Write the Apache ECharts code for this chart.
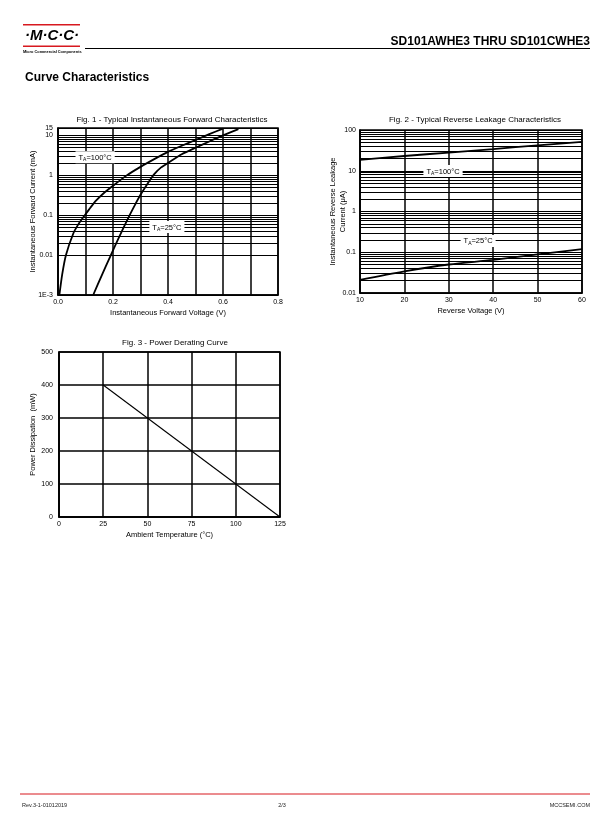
<!DOCTYPE html>
<html>
<head>
<meta charset="utf-8">
<script src="https://cdn.jsdelivr.net/npm/echarts@6/dist/echarts.min.js"></script>
<style>
  html, body { margin: 0; padding: 0; background: #fff; }
  #page { width: 612px; height: 825px; }
</style>
</head>
<body>
<div id="page"></div>
<script>
// Fig. 1 - forward characteristics (V, mA)
const fwdVolt100 = [0.005, 0.015, 0.029, 0.056, 0.075, 0.098, 0.12, 0.14, 0.17, 0.2, 0.25, 0.3, 0.35, 0.4, 0.45, 0.5, 0.55, 0.6];
const fwdCur100 = [0.001, 0.0032, 0.01, 0.035, 0.06, 0.1, 0.16, 0.235, 0.37, 0.54, 0.98, 1.6, 2.5, 3.8, 5.4, 7.5, 10.5, 14.5];
const fwdVolt25 = [0.128, 0.16, 0.189, 0.22, 0.257, 0.28, 0.3, 0.325, 0.35, 0.375, 0.4, 0.45, 0.5, 0.55, 0.6, 0.656];
const fwdCur25 = [0.001, 0.0032, 0.0089, 0.026, 0.089, 0.18, 0.32, 0.6, 1.05, 1.55, 2.0, 3.3, 4.8, 6.9, 9.8, 14.1];

// Fig. 2 - reverse leakage (V, uA)
const revVolt = [10, 20, 30, 40, 50, 60];
const revCur100 = [18.4, 23, 28, 34, 42, 51];
const revCur25 = [0.021, 0.034, 0.05, 0.065, 0.089, 0.119];

// Fig. 3 - power derating (degC, mW)
const derTemp = [25, 125];
const derPower = [400, 0];

// log grid multipliers and decade labels
const logSteps = [2, 3, 4, 5, 6, 7, 8, 9];
const fig1Decades = [0.001, 0.01, 0.1, 1, 10];
const fig2Decades = [0.01, 0.1, 1, 10];
const fig1XLabels = ['0.0', '0.2', '0.4', '0.6', '0.8'];

const FONT = 'Liberation Sans, Arial, sans-serif';
const chart = echarts.init(document.getElementById('page'));

function minorLines(decades, max) {
  const out = [];
  decades.forEach(d => logSteps.forEach(k => {
    const v = +(k * d).toPrecision(3);
    if (v < max) out.push({ yAxis: v });
  }));
  return out;
}
function gridMarks(decades, max) {
  return {
    silent: true,
    symbol: ['none', 'none'],
    animation: false,
    label: { show: false },
    lineStyle: { color: '#000', width: 1, type: 'solid' },
    emphasis: { disabled: true },
    data: minorLines(decades, max)
  };
}
const taRich = {
  t: { fontSize: 7.5, fontFamily: FONT, color: '#000' },
  s: { fontSize: 5, fontFamily: FONT, color: '#000', verticalAlign: 'bottom', padding: [4, 0, 0, 0] }
};
function taLabel(coord, txt) {
  return {
    coord: coord,
    symbol: 'rect',
    symbolSize: 0,
    label: {
      show: true, position: 'inside',
      formatter: '{t|T}{s|A}{t|=' + txt + '}',
      backgroundColor: '#fff', padding: [2, 3, 1, 3],
      rich: taRich
    }
  };
}
const pairs = (xs, ys) => xs.map((x, i) => [x, ys[i]]);

const axisText = { color: '#000', fontSize: 7, fontFamily: FONT };
const nameText = { color: '#000', fontSize: 7.5, fontFamily: FONT };
const blackLine = w => ({ show: true, lineStyle: { color: '#000', width: w } });
const curve = w => ({ color: '#000', width: w });

chart.setOption({
  animation: false,
  textStyle: { fontFamily: FONT },
  title: [
    { text: 'Fig. 1 - Typical Instantaneous Forward Characteristics', left: 167, top: 111, textAlign: 'center',
      textStyle: { fontSize: 8, fontWeight: 'normal', color: '#000', fontFamily: FONT } },
    { text: 'Fig. 2 - Typical Reverse Leakage Characteristics', left: 470, top: 111, textAlign: 'center',
      textStyle: { fontSize: 8, fontWeight: 'normal', color: '#000', fontFamily: FONT } },
    { text: 'Fig. 3 - Power Derating Curve', left: 170, top: 334, textAlign: 'center',
      textStyle: { fontSize: 8, fontWeight: 'normal', color: '#000', fontFamily: FONT } }
  ],
  grid: [
    { left: 58, top: 128, width: 220, height: 167, show: true, borderColor: '#000', borderWidth: 1.5 },
    { left: 360, top: 130, width: 222, height: 163, show: true, borderColor: '#000', borderWidth: 1.5 },
    { left: 59, top: 352, width: 221, height: 165, show: true, borderColor: '#000', borderWidth: 1.5 }
  ],
  xAxis: [
    { gridIndex: 0, type: 'value', min: 0, max: 0.8, interval: 0.1,
      name: 'Instantaneous Forward Voltage (V)', nameLocation: 'middle', nameGap: 14, nameTextStyle: nameText,
      axisLine: blackLine(1.5), axisTick: { show: false }, splitLine: blackLine(1.5),
      axisLabel: Object.assign({ margin: 4, formatter: v => {
        const i = Math.round(v * 10);
        return i % 2 === 0 ? fig1XLabels[i / 2] : '';
      } }, axisText) },
    { gridIndex: 1, type: 'value', min: 10, max: 60, interval: 10,
      name: 'Reverse Voltage (V)', nameLocation: 'middle', nameGap: 14, nameTextStyle: nameText,
      axisLine: blackLine(1.5), axisTick: { show: false }, splitLine: blackLine(1.5),
      axisLabel: Object.assign({ margin: 4 }, axisText) },
    { gridIndex: 2, type: 'value', min: 0, max: 125, interval: 25,
      name: 'Ambient Temperature (\u00b0C)', nameLocation: 'middle', nameGap: 14, nameTextStyle: nameText,
      axisLine: blackLine(1.5), axisTick: { show: false }, splitLine: blackLine(1.5),
      axisLabel: Object.assign({ margin: 4 }, axisText) }
  ],
  yAxis: [
    { gridIndex: 0, type: 'log', logBase: 10, min: 0.001, max: 15,
      name: 'Instantaneous Forward Current (mA)', nameLocation: 'middle', nameGap: 21, nameMoveOverlap: false,
      nameTextStyle: nameText,
      axisLine: blackLine(1.5), axisTick: { show: false }, splitLine: blackLine(1),
      axisLabel: Object.assign({ margin: 5, formatter: v => v < 0.0015 ? '1E-3' : String(+v.toPrecision(3)) }, axisText) },
    { gridIndex: 1, type: 'log', logBase: 10, min: 0.01, max: 100,
      name: 'Instantaneous Reverse Leakage\nCurrent (\u03bcA)', nameLocation: 'middle', nameGap: 12, nameMoveOverlap: false,
      nameTextStyle: Object.assign({ lineHeight: 10 }, nameText),
      axisLine: blackLine(1.5), axisTick: { show: false }, splitLine: blackLine(1),
      axisLabel: Object.assign({ margin: 4, formatter: v => String(+v.toPrecision(3)) }, axisText) },
    { gridIndex: 2, type: 'value', min: 0, max: 500, interval: 100,
      name: 'Power Dissipation  (mW)', nameLocation: 'middle', nameGap: 20, nameTextStyle: nameText,
      axisLine: blackLine(1.5), axisTick: { show: false }, splitLine: blackLine(1.5),
      axisLabel: Object.assign({ margin: 6 }, axisText) }
  ],
  series: [
    { type: 'line', xAxisIndex: 0, yAxisIndex: 0, data: pairs(fwdVolt100, fwdCur100),
      smooth: 0.2, showSymbol: false, lineStyle: curve(1.8), z: 5,
      markLine: gridMarks(fig1Decades, 15),
      markPoint: { silent: true, data: [taLabel([0.135, 2.8], '100\u00b0C')] } },
    { type: 'line', xAxisIndex: 0, yAxisIndex: 0, data: pairs(fwdVolt25, fwdCur25),
      smooth: 0.2, showSymbol: false, lineStyle: curve(1.8), z: 5,
      markPoint: { silent: true, data: [taLabel([0.396, 0.05], '25\u00b0C')] } },
    { type: 'line', xAxisIndex: 1, yAxisIndex: 1, data: pairs(revVolt, revCur100),
      smooth: 0.3, showSymbol: false, lineStyle: curve(1.8), z: 5,
      markLine: gridMarks(fig2Decades, 100),
      markPoint: { silent: true, data: [taLabel([28.7, 9.8], '100\u00b0C')] } },
    { type: 'line', xAxisIndex: 1, yAxisIndex: 1, data: pairs(revVolt, revCur25),
      smooth: 0.3, showSymbol: false, lineStyle: curve(1.8), z: 5,
      markPoint: { silent: true, data: [taLabel([36.6, 0.19], '25\u00b0C')] } },
    { type: 'line', xAxisIndex: 2, yAxisIndex: 2, data: pairs(derTemp, derPower),
      showSymbol: false, lineStyle: curve(1.1), z: 5 }
  ],
  graphic: [
    // header logo
    { type: 'rect', shape: { x: 23, y: 24, width: 57, height: 1.6 }, style: { fill: '#d7191f' } },
    { type: 'rect', shape: { x: 23, y: 45.5, width: 57, height: 1.6 }, style: { fill: '#d7191f' } },
    { type: 'text', x: 52, y: 36, style: { text: '\u00b7M\u00b7C\u00b7C\u00b7', textAlign: 'center', textVerticalAlign: 'middle',
      font: 'italic bold 15px ' + FONT, fill: '#000' } },
    { type: 'text', x: 23, y: 51.5, style: { text: 'Micro Commercial Components', textVerticalAlign: 'middle',
      font: 'bold 3.9px ' + FONT, fill: '#000' } },
    { type: 'line', shape: { x1: 85, y1: 48.5, x2: 590, y2: 48.5 }, style: { stroke: '#000', lineWidth: 1 } },
    { type: 'text', x: 590, y: 42, style: { text: 'SD101AWHE3 THRU SD101CWHE3', textAlign: 'right', textVerticalAlign: 'middle',
      font: 'bold 12px ' + FONT, fill: '#000' } },
    { type: 'text', x: 25, y: 78, style: { text: 'Curve Characteristics', textVerticalAlign: 'middle',
      font: 'bold 12px ' + FONT, fill: '#000' } },
    // footer
    { type: 'line', shape: { x1: 20, y1: 794, x2: 590, y2: 794 }, style: { stroke: '#d7191f', lineWidth: 1 } },
    { type: 'text', x: 22, y: 805, style: { text: 'Rev.3-1-01012019', textVerticalAlign: 'middle', font: '5.5px ' + FONT, fill: '#222' } },
    { type: 'text', x: 282, y: 805, style: { text: '2/3', textAlign: 'center', textVerticalAlign: 'middle', font: '5.5px ' + FONT, fill: '#222' } },
    { type: 'text', x: 590, y: 805, style: { text: 'MCCSEMI.COM', textAlign: 'right', textVerticalAlign: 'middle', font: '5.5px ' + FONT, fill: '#222' } }
  ]
});
</script>
</body>
</html>
